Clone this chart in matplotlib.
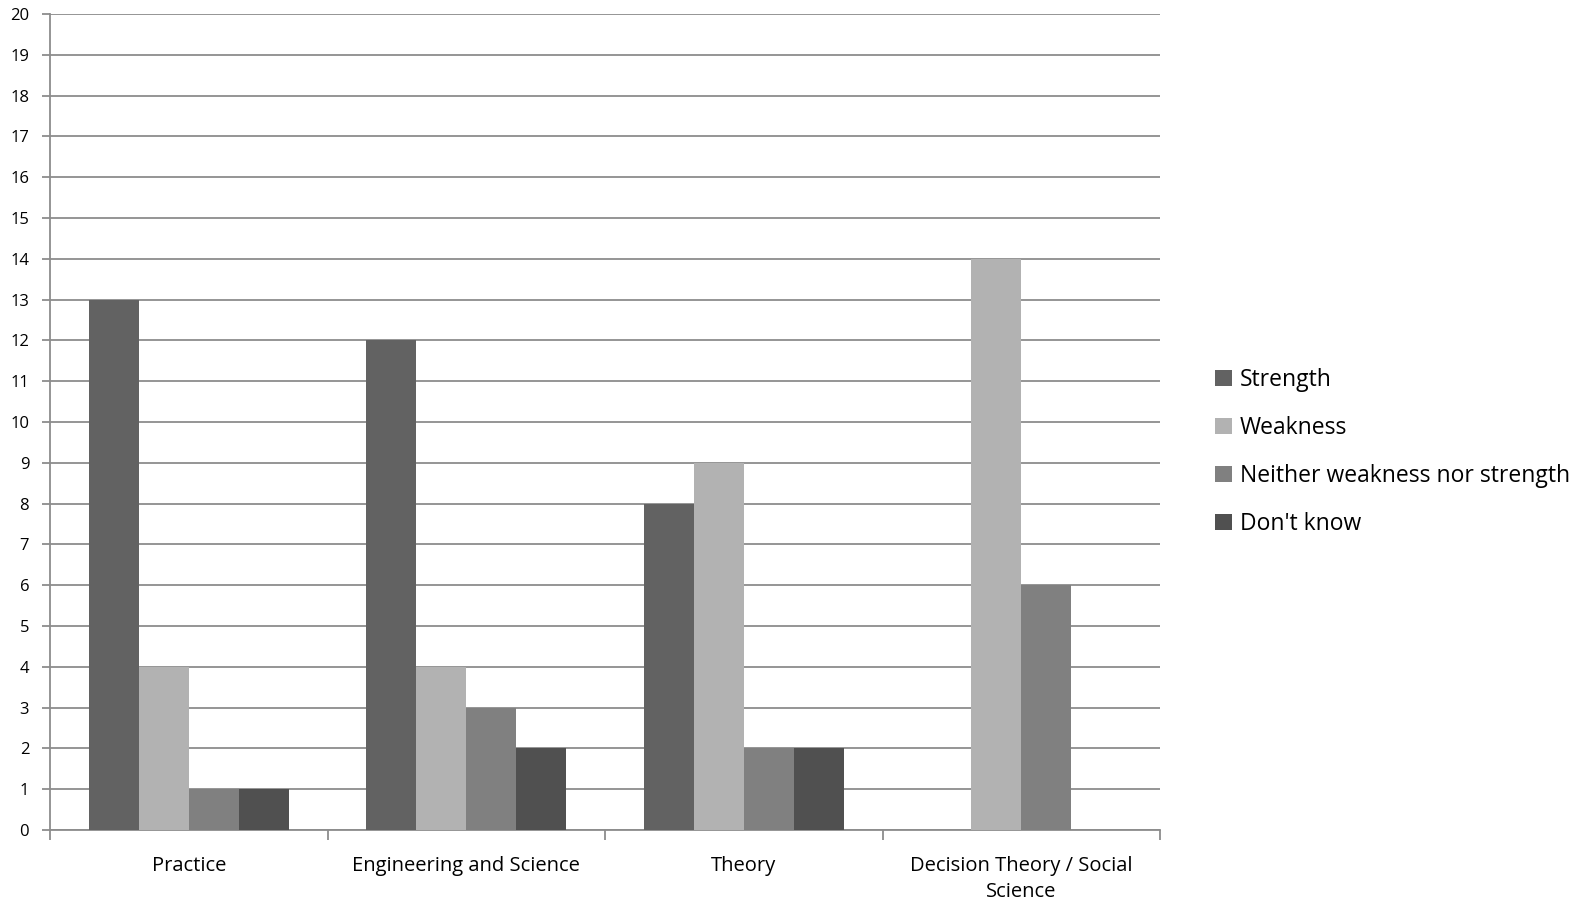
import matplotlib
matplotlib.use("Agg")
import matplotlib.pyplot as plt
import numpy as np

categories = ["Practice", "Engineering and Science", "Theory", "Decision Theory / Social\nScience"]
series_names = ["Strength", "Weakness", "Neither weakness nor strength", "Don't know"]
strength = [13, 12, 8, 0]
weakness = [4, 4, 9, 14]
neither = [1, 3, 2, 6]
dont_know = [1, 2, 2, 0]
yticks = list(range(0, 21))

colors = ["#626262", "#b2b2b2", "#808080", "#505050"]

plt.rcParams['font.family'] = ['Open Sans', 'DejaVu Sans']

fig = plt.figure(figsize=(15.87, 9.11), dpi=100)
ax = fig.add_axes([50/1587, 1-830/911, (1160-50)/1587, (830-14)/911])

x = np.arange(len(categories))
w = 0.18
data = [strength, weakness, neither, dont_know]
for i, (vals, name, c) in enumerate(zip(data, series_names, colors)):
    ax.bar(x + (i - 1.5) * w, vals, width=w, color=c, label=name, zorder=3, linewidth=0)

ax.set_xlim(-0.5, len(categories) - 0.5)
ax.set_ylim(0, 20)
ax.set_yticks(yticks)
ax.set_yticklabels([str(v) for v in yticks], fontsize=12)
ax.yaxis.grid(True, color="#8c8c8c", linewidth=1.3, zorder=0)
ax.set_axisbelow(True)

ax.set_xticks(x)
ax.set_xticklabels(categories, fontsize=14.5, linespacing=1.35)
ax.set_xticks(np.arange(-0.5, len(categories)), minor=True)
ax.tick_params(axis='x', which='major', length=0, pad=19)
ax.tick_params(axis='x', which='minor', length=7, width=1.3, color="#8c8c8c", direction='out')
ax.tick_params(axis='y', length=6, width=1.3, color="#8c8c8c", pad=9)

for s in ["top", "right"]:
    ax.spines[s].set_visible(False)
for s in ["left", "bottom"]:
    ax.spines[s].set_color("#8c8c8c")
    ax.spines[s].set_linewidth(1.3)

fig.legend(loc='center left', bbox_to_anchor=(1194/1587, 1-452/911), frameon=False,
           fontsize=16.5, handlelength=0.75, handleheight=0.75, handletextpad=0.35,
           labelspacing=1.05)

fig.savefig("out.png", dpi=100)
